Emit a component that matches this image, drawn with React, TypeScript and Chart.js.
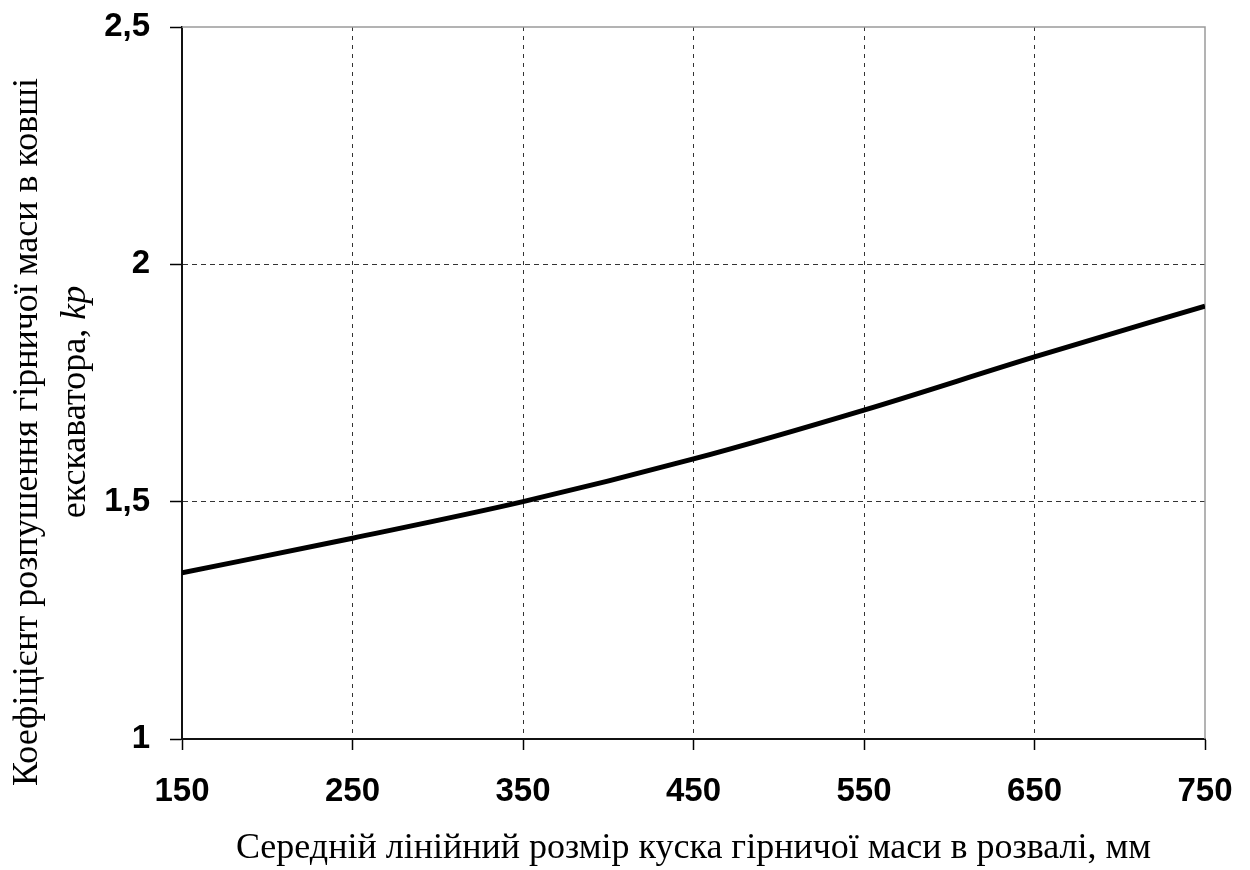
import React, { useEffect, useRef } from "react";
import { Chart, registerables } from "chart.js";

Chart.register(...registerables);

const sizeValues = [150, 250, 350, 450, 550, 650, 750];
const kValues = [1.35, 1.423, 1.5, 1.59, 1.693, 1.805, 1.912];
const yTitleLine1 = "Коефіцієнт розпушення гірничої маси в ковші";
const yTitleLine2Plain = "екскаватора, ";
const yTitleLine2Italic = "kр";
const xTitle = "Середній лінійний розмір куска гірничої маси в розвалі, мм";

const SERIF = "'Liberation Serif', 'Times New Roman', serif";
const SANS = "'Liberation Sans', Arial, sans-serif";
const TITLE_SIZE = 36;

const framePlugin = {
  id: "frame",
  beforeDatasetsDraw(chart: any) {
    const { ctx, chartArea: a } = chart;
    ctx.save();
    ctx.strokeStyle = "#9a9a9a";
    ctx.lineWidth = 1.5;
    ctx.beginPath();
    ctx.moveTo(a.left, a.top);
    ctx.lineTo(a.right, a.top);
    ctx.lineTo(a.right, a.bottom);
    ctx.stroke();
    ctx.restore();
  },
  afterDraw(chart: any) {
    const { ctx, chartArea: a } = chart;
    const cy = (a.top + a.bottom) / 2;
    ctx.save();
    ctx.fillStyle = "#000";
    ctx.textBaseline = "middle";
    ctx.textAlign = "left";
    ctx.font = `${TITLE_SIZE}px ${SERIF}`;
    const w1 = ctx.measureText(yTitleLine1).width;
    ctx.save();
    ctx.translate(28, cy + 49);
    ctx.rotate(-Math.PI / 2);
    ctx.fillText(yTitleLine1, -w1 / 2, 0);
    ctx.restore();
    ctx.font = `${TITLE_SIZE}px ${SERIF}`;
    const wp = ctx.measureText(yTitleLine2Plain).width;
    ctx.font = `italic ${TITLE_SIZE}px ${SERIF}`;
    const wi = ctx.measureText(yTitleLine2Italic).width;
    const total = wp + wi;
    ctx.save();
    ctx.translate(76, cy + 19);
    ctx.rotate(-Math.PI / 2);
    ctx.font = `${TITLE_SIZE}px ${SERIF}`;
    ctx.fillText(yTitleLine2Plain, -total / 2, 0);
    ctx.font = `italic ${TITLE_SIZE}px ${SERIF}`;
    ctx.fillText(yTitleLine2Italic, -total / 2 + wp, 0);
    ctx.restore();
    ctx.restore();
  },
};

export default function App() {
  const ref = useRef<HTMLCanvasElement | null>(null);
  useEffect(() => {
    if (!ref.current) return;
    const data = sizeValues.map((x, i) => ({ x, y: kValues[i] }));
    const chart = new Chart(ref.current, {
      type: "line",
      data: {
        datasets: [
          {
            data,
            borderColor: "#000",
            borderWidth: 5,
            pointRadius: 0,
            cubicInterpolationMode: "monotone",
            fill: false,
          },
        ],
      },
      options: {
        animation: false,
        responsive: false,
        events: [],
        layout: { padding: { top: 27, right: 45, left: 0, bottom: 0 } },
        plugins: { legend: { display: false }, tooltip: { enabled: false } },
        scales: {
          x: {
            type: "linear",
            min: 150,
            max: 750,
            afterFit: (s: any) => {
              s.height = 131;
              s.paddingLeft = 0;
              s.paddingRight = 0;
            },
            ticks: {
              stepSize: 100,
              padding: 22,
              color: "#000",
              font: { family: SANS, size: 33, weight: "bold" },
              maxRotation: 0,
            },
            grid: {
              color: (c: any) => (c.index === 0 || c.index === 6 ? "rgba(0,0,0,0)" : "#333"),
              lineWidth: 1,
              tickLength: 11,
              tickColor: "#000",
              tickWidth: 1.5,
            },
            border: { display: true, color: "#111", width: 2, dash: [4, 5] },
            title: {
              display: true,
              text: xTitle,
              color: "#000",
              font: { family: SERIF, size: TITLE_SIZE },
              padding: { top: 0, bottom: 0 },
            },
          },
          y: {
            type: "linear",
            min: 1,
            max: 2.5,
            afterFit: (s: any) => {
              s.width = 182;
              s.paddingTop = 0;
              s.paddingBottom = 0;
            },
            ticks: {
              stepSize: 0.5,
              padding: 20,
              color: "#000",
              font: { family: SANS, size: 33, weight: "bold" },
              callback: (v: any) => String(v).replace(".", ","),
            },
            grid: {
              color: (c: any) => (c.index === 0 || c.index === 3 ? "rgba(0,0,0,0)" : "#333"),
              lineWidth: 1,
              tickLength: 12,
              tickColor: "#000",
              tickWidth: 1.5,
            },
            border: { display: true, color: "#111", width: 2, dash: [5, 4] },
          },
        },
      },
      plugins: [framePlugin],
    } as any);
    return () => chart.destroy();
  }, []);
  return (
    <div style={{ position: "absolute", left: 0, top: 0, width: 1250, height: 870, background: "#fff" }}>
      <canvas ref={ref} width={1250} height={870} style={{ display: "block" }} />
    </div>
  );
}
